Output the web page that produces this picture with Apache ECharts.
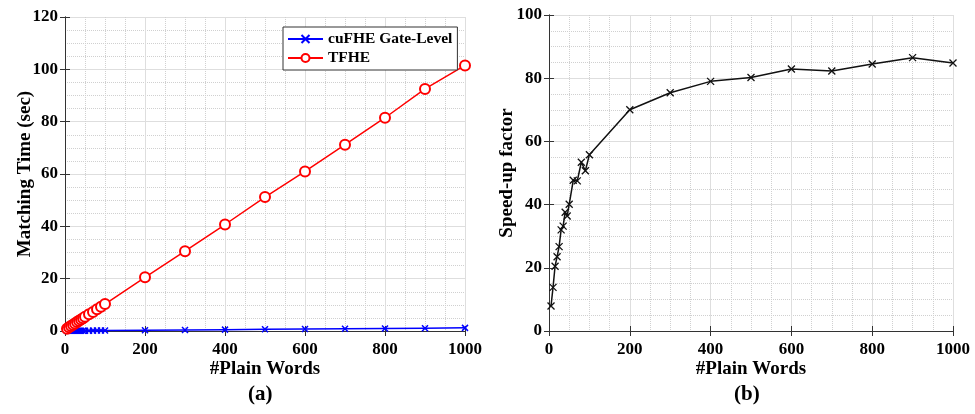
<!DOCTYPE html>
<html>
<head>
<meta charset="utf-8">
<script src="https://cdn.jsdelivr.net/npm/echarts@6/dist/echarts.min.js"></script>
<style>
	html, body { margin: 0; padding: 0; background: #fff; }
	#chart { width: 975px; height: 414px; }
</style>
</head>
<body>
<div id="chart"></div>
<script>
// #Plain Words
var words = [5, 10, 15, 20, 25, 30, 35, 40, 45, 50, 60, 70, 80, 90, 100, 200, 300, 400, 500, 600, 700, 800, 900, 1000];
// matching time (sec)
var cufheTime = [0.11, 0.10, 0.09, 0.10, 0.11, 0.11, 0.12, 0.12, 0.13, 0.13, 0.13, 0.15, 0.16, 0.18, 0.18, 0.29, 0.41, 0.52, 0.64, 0.74, 0.86, 0.97, 1.07, 1.2];
var tfheTime = [0.9, 1.4, 1.9, 2.4, 2.9, 3.4, 3.9, 4.4, 4.9, 5.4, 6.4, 7.3, 8.3, 9.3, 10.3, 20.5, 30.5, 40.7, 51.2, 61, 71.2, 81.5, 92.5, 101.5];
// speed-up factor
var speedup = [7.9, 13.8, 20.5, 23.5, 26.7, 32, 33.2, 37.6, 36.4, 40.1, 47.7, 47.5, 53.4, 50.7, 55.8, 70, 75.4, 79, 80.2, 82.9, 82.3, 84.5, 86.5, 84.8];

var xTicks = [0, 1000, 200];
var timeTicks = [0, 120, 20];
var speedTicks = [0, 100, 20];

function pairs(xs, ys) {
	return xs.map(function(x, i) { return [x, ys[i]]; });
}

var font = 'Liberation Serif';
var crossSym = 'path://M0,0L10,10M10,0L0,10';
function plain(v) { return String(v); }

function mainX(grid) {
	return {
		type: 'value', gridIndex: grid, min: xTicks[0], max: xTicks[1], interval: xTicks[2],
		name: '#Plain Words', nameLocation: 'middle', nameGap: 29, nameMoveOverlap: false,
		nameTextStyle: { fontFamily: font, fontWeight: 'bold', fontSize: 19, color: '#000' },
		axisLine: { onZero: false, lineStyle: { color: '#333', width: 1 } },
		axisTick: { inside: true, length: 5, lineStyle: { color: '#333' } },
		axisLabel: { fontFamily: font, fontWeight: 'bold', fontSize: 17, color: '#000', margin: 10, formatter: plain },
		splitLine: { show: true, lineStyle: { color: '#dedede', width: 1 } },
		minorTick: { show: false, splitNumber: 4 },
		minorSplitLine: { show: true, lineStyle: { color: '#d0d0d0', type: 'dotted' } }
	};
}
function boxX(grid) {
	return {
		type: 'value', gridIndex: grid, position: 'top', min: xTicks[0], max: xTicks[1], interval: xTicks[2],
		axisLine: { lineStyle: { color: '#333' } },
		axisTick: { inside: true, length: 5, lineStyle: { color: '#333' } },
		axisLabel: { show: false }, splitLine: { show: false }
	};
}
function mainY(grid, ticks, name, gap) {
	return {
		type: 'value', gridIndex: grid, min: ticks[0], max: ticks[1], interval: ticks[2],
		name: name, nameLocation: 'middle', nameGap: gap, nameMoveOverlap: false,
		nameTextStyle: { fontFamily: font, fontWeight: 'bold', fontSize: 19, color: '#000' },
		axisLine: { show: true, lineStyle: { color: '#333', width: 1 } },
		axisTick: { show: true, inside: true, length: 5, lineStyle: { color: '#333' } },
		axisLabel: { fontFamily: font, fontWeight: 'bold', fontSize: 17, color: '#000', margin: 7, formatter: plain },
		splitLine: { show: true, lineStyle: { color: '#dedede', width: 1 } },
		minorTick: { show: false, splitNumber: 4 },
		minorSplitLine: { show: true, lineStyle: { color: '#d0d0d0', type: 'dotted' } }
	};
}
function boxY(grid, ticks) {
	return {
		type: 'value', gridIndex: grid, position: 'right', min: ticks[0], max: ticks[1], interval: ticks[2],
		axisLine: { show: true, lineStyle: { color: '#333' } },
		axisTick: { show: true, inside: true, length: 5, lineStyle: { color: '#333' } },
		axisLabel: { show: false }, splitLine: { show: false }
	};
}

var chart = echarts.init(document.getElementById('chart'));
chart.setOption({
	backgroundColor: '#fff',
	animation: false,
	grid: [
		{ left: 65, right: 510, top: 17, bottom: 83 },
		{ left: 549, right: 22, top: 15, bottom: 83 }
	],
	legend: {
		data: ['cuFHE Gate-Level', 'TFHE'],
		orient: 'vertical', left: 283, top: 27,
		itemWidth: 35, itemHeight: 10, itemGap: 3,
		padding: [4, 5, 4, 4],
		borderColor: '#333', borderWidth: 1, backgroundColor: '#fff',
		textStyle: { fontFamily: font, fontWeight: 'bold', fontSize: 15.5, color: '#000' }
	},
	xAxis: [mainX(0), boxX(0), mainX(1), boxX(1)],
	yAxis: [
		mainY(0, timeTicks, 'Matching Time (sec)', 30), boxY(0, timeTicks),
		mainY(1, speedTicks, 'Speed-up factor', 32), boxY(1, speedTicks)
	],
	graphic: [
		{ type: 'text', left: 248, top: 384, style: { text: '(a)', font: 'bold 21px "Liberation Serif"', fill: '#000' } },
		{ type: 'text', left: 734, top: 384, style: { text: '(b)', font: 'bold 21px "Liberation Serif"', fill: '#000' } }
	],
	series: [
		{
			name: 'cuFHE Gate-Level', type: 'line', xAxisIndex: 0, yAxisIndex: 0,
			data: pairs(words, cufheTime),
			symbol: crossSym, symbolSize: 6,
			lineStyle: { color: '#0000ff', width: 1.5 },
			itemStyle: { color: '#0000ff', borderColor: '#0000ff', borderWidth: 1.5 }
		},
		{
			name: 'TFHE', type: 'line', xAxisIndex: 0, yAxisIndex: 0,
			data: pairs(words, tfheTime),
			symbol: 'emptyCircle', symbolSize: 10,
			lineStyle: { color: '#ff0000', width: 1.5 },
			itemStyle: { color: '#ff0000', borderColor: '#ff0000', borderWidth: 1.3 }
		},
		{
			name: 'Speed-up', type: 'line', xAxisIndex: 2, yAxisIndex: 2,
			data: pairs(words, speedup),
			symbol: crossSym, symbolSize: 7,
			lineStyle: { color: '#111', width: 1.5 },
			itemStyle: { color: '#111', borderColor: '#111', borderWidth: 1.3 }
		}
	]
});
</script>
</body>
</html>
